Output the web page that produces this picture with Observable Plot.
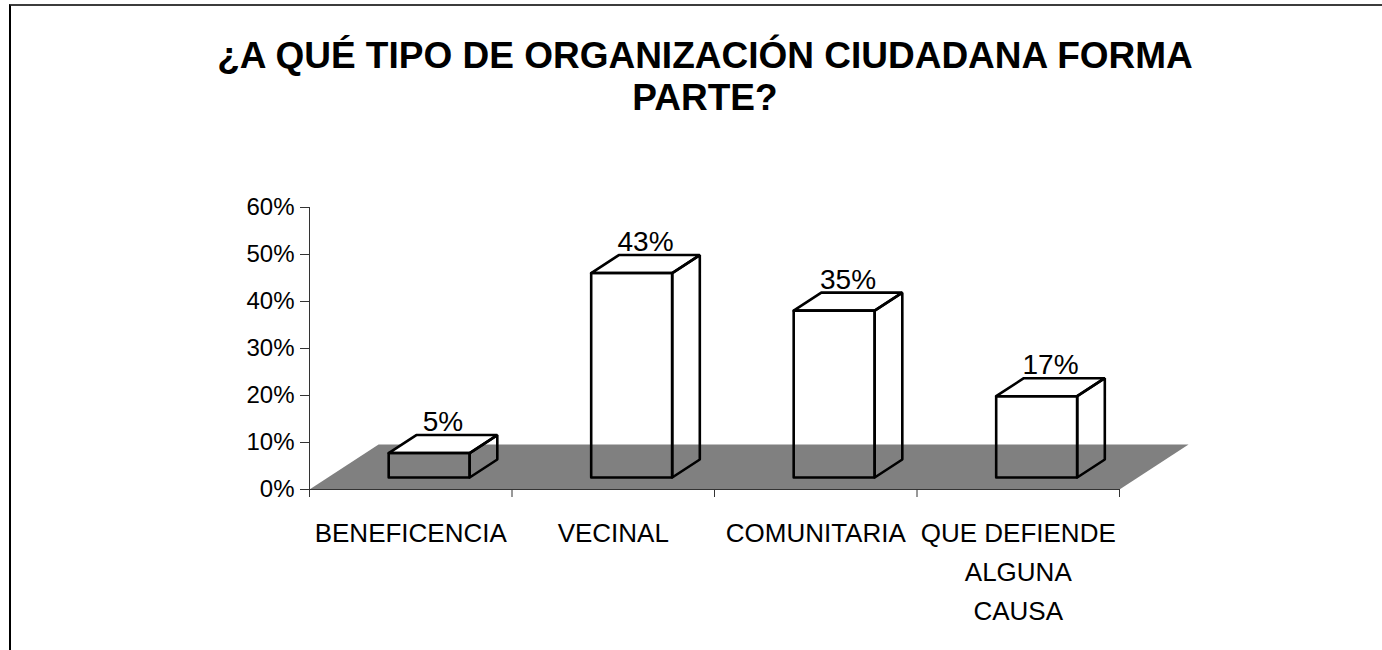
<!DOCTYPE html>
<html>
<head>
<meta charset="utf-8">
<script src="https://cdn.jsdelivr.net/npm/d3@7"></script>
<script src="https://cdn.jsdelivr.net/npm/@observablehq/plot@0.6"></script>
<style>
  html, body { margin: 0; padding: 0; background: #fff; overflow: hidden; }
  #wrap { position: relative; width: 1382px; height: 650px; overflow: hidden; font-family: "Liberation Sans", Arial, sans-serif; }
  #frame { position: absolute; left: 9px; top: 4px; width: 1400px; height: 700px; border-top: 2px solid #3c3c3c; border-left: 2px solid #000; }
  #title { position: absolute; left: 28px; width: 1354px; top: 35px; text-align: center; font-weight: bold; font-size: 37px; line-height: 42px; color: #000; }
  #chart { position: absolute; left: 0; top: 0; }
</style>
</head>
<body>
<div id="wrap">
  <div id="frame"></div>
  <div id="chart"></div>
  <div id="title">¿A QUÉ TIPO DE ORGANIZACIÓN CIUDADANA FORMA<br>PARTE?</div>
</div>
<script>
// ---- data ----
const categories = ["BENEFICENCIA", "VECINAL", "COMUNITARIA", "QUE DEFIENDE\nALGUNA\nCAUSA"];
const values = [0.052, 0.435, 0.355, 0.173];
const valueLabels = ["5%", "43%", "35%", "17%"];
const yTicks = [0, 0.1, 0.2, 0.3, 0.4, 0.5, 0.6];

// ---- 3D projection helpers (depth expressed in scale units) ----
const depthX = 0.341;   // full floor depth, in category units
const depthY = 0.0957;  // full floor depth, in value units
const f1 = 0.267, f2 = 0.667; // bar front / back depth fractions
const barL = 0.3, barR = 0.7; // bar extent inside each category band
const P = (u, v, d, id) => ({x: u + d * depthX, y: v + d * depthY, id});

const floor = [P(0,0,0,"f"), P(4,0,0,"f"), P(4,0,1,"f"), P(0,0,1,"f"), P(0,0,0,"f")];

const fronts = [], sides = [], tops = [];
values.forEach((v, i) => {
  const a = i + barL, b = i + barR;
  fronts.push(P(a,0,f1,"fr"+i), P(b,0,f1,"fr"+i), P(b,v,f1,"fr"+i), P(a,v,f1,"fr"+i), P(a,0,f1,"fr"+i));
  sides.push(P(b,0,f1,"sd"+i), P(b,0,f2,"sd"+i), P(b,v,f2,"sd"+i), P(b,v,f1,"sd"+i), P(b,0,f1,"sd"+i));
  tops.push(P(a,v,f1,"tp"+i), P(b,v,f1,"tp"+i), P(b,v,f2,"tp"+i), P(a,v,f2,"tp"+i), P(a,v,f1,"tp"+i));
});
const labelPts = values.map((v, i) => ({...P(i + 0.5, v, f2, i), x: i + 0.5 + (f1 + f2) / 2 * depthX, text: valueLabels[i]}));
const catPts = categories.map((c, i) => ({x: i + 0.5, y: 0, text: c}));

const font = "Liberation Sans, Arial, sans-serif";
const chart = Plot.plot({
  width: 1382,
  height: 650,
  marginLeft: 309,
  marginRight: 263,
  marginTop: 207,
  marginBottom: 161,
  style: {background: "transparent", fontFamily: font, color: "#000", overflow: "visible"},
  x: {domain: [0, 4], axis: null, label: null},
  y: {domain: [0, 0.6], axis: null, label: null},
  marks: [
    // faces hidden behind the floor
    Plot.line(fronts, {x: "x", y: "y", z: "id", fill: "white", stroke: "none", curve: "linear"}),
    Plot.line(sides, {x: "x", y: "y", z: "id", fill: "white", stroke: "none", curve: "linear"}),
    // floor
    Plot.line(floor, {x: "x", y: "y", z: "id", fill: "#808080", stroke: "none", curve: "linear"}),
    // top faces
    Plot.line(tops, {x: "x", y: "y", z: "id", fill: "white", stroke: "none", curve: "linear"}),
    // outlines
    Plot.line(fronts, {x: "x", y: "y", z: "id", stroke: "#000", strokeWidth: 2.6, strokeLinejoin: "miter", curve: "linear"}),
    Plot.line(sides, {x: "x", y: "y", z: "id", stroke: "#000", strokeWidth: 2.6, strokeLinejoin: "miter", curve: "linear"}),
    Plot.line(tops, {x: "x", y: "y", z: "id", stroke: "#000", strokeWidth: 2.6, strokeLinejoin: "miter", curve: "linear"}),
    // axes
    Plot.ruleY([0], {x1: 0, x2: 4, stroke: "#333", strokeWidth: 1}),
    Plot.ruleX([0], {y1: 0, y2: 0.6, stroke: "#333", strokeWidth: 1}),
    Plot.axisY(yTicks, {tickFormat: d3.format(".0%"), tickSize: 9, tickPadding: 6, fontSize: 24, stroke: "#333", fill: "#000", label: null}),
    Plot.axisX([0, 1, 2, 3, 4], {tickSize: 8, tickFormat: () => "", stroke: "#333", label: null}),
    // labels
    Plot.text(labelPts, {x: "x", y: "y", text: "text", lineAnchor: "bottom", dy: -4, fontSize: 28, fill: "#000"}),
    Plot.text(catPts, {x: "x", y: "y", text: "text", lineAnchor: "top", dy: 25, fontSize: 26, lineHeight: 1.5, fill: "#000"})
  ]
});
document.getElementById("chart").appendChild(chart);
</script>
</body>
</html>
